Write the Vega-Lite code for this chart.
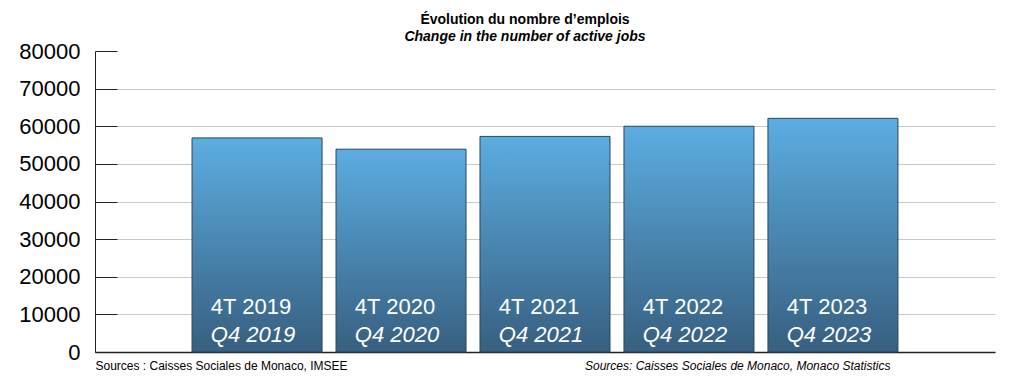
{
  "$schema": "https://vega.github.io/schema/vega-lite/v6.json",
  "width": 900,
  "height": 301,
  "autosize": {"type": "none"},
  "padding": {"left": 95, "top": 51, "right": 29, "bottom": 35},
  "background": "white",
  "config": {
    "view": {"stroke": null},
    "font": "Liberation Sans"
  },
  "title": {
    "text": "Évolution du nombre d’emplois",
    "subtitle": "Change in the number of active jobs",
    "anchor": "middle",
    "frame": "group",
    "dx": -20,
    "offset": -4,
    "fontSize": 14,
    "fontWeight": "bold",
    "color": "black",
    "subtitleFontSize": 14,
    "subtitleFontWeight": "bold",
    "subtitleFontStyle": "italic",
    "subtitleColor": "black",
    "subtitlePadding": 3
  },
  "data": {
    "values": [
      {"fr": "4T 2019", "en": "Q4 2019", "jobs": 56900},
      {"fr": "4T 2020", "en": "Q4 2020", "jobs": 53900},
      {"fr": "4T 2021", "en": "Q4 2021", "jobs": 57300},
      {"fr": "4T 2022", "en": "Q4 2022", "jobs": 60000},
      {"fr": "4T 2023", "en": "Q4 2023", "jobs": 62100}
    ]
  },
  "encoding": {
    "x": {
      "field": "fr",
      "type": "nominal",
      "sort": null,
      "scale": {"paddingInner": 0.097, "paddingOuter": 0.674},
      "axis": {
        "title": "Sources : Caisses Sociales de Monaco, IMSEE",
        "titleFont": "Liberation Sans",
        "titleFontSize": 12,
        "titleFontWeight": "normal",
        "titleColor": "black",
        "titleAnchor": "start",
        "titleAlign": "left",
        "titlePadding": 8,
        "labels": false,
        "ticks": false,
        "domainColor": "#222",
        "domainWidth": 1.5
      }
    },
    "y": {
      "field": "jobs",
      "type": "quantitative",
      "scale": {"domain": [0, 80000]},
      "axis": {
        "title": null,
        "values": [0, 10000, 20000, 30000, 40000, 50000, 60000, 70000, 80000],
        "format": "d",
        "labelOverlap": false,
        "labelFontSize": 22,
        "labelColor": "black",
        "labelFont": "Liberation Sans",
        "labelPadding": 37,
        "tickSize": -22,
        "tickColor": "#222",
        "domainColor": "#222",
        "gridColor": "#c8c8c8",
        "gridOpacity": {"condition": {"test": "datum.value === 80000", "value": 0}, "value": 1}
      }
    }
  },
  "layer": [
    {
      "mark": {
        "type": "bar",
        "stroke": "#2b465c",
        "strokeWidth": 1,
        "color": {
          "gradient": "linear",
          "x1": 0, "y1": 0, "x2": 0, "y2": 1,
          "stops": [
            {"offset": 0, "color": "#5cade1"},
            {"offset": 1, "color": "#375f80"}
          ]
        }
      }
    },
    {
      "mark": {"type": "text", "color": "white", "fontSize": 22, "font": "Liberation Sans", "baseline": "bottom", "dx": -6, "dy": -33},
      "encoding": {"y": {"datum": 0}, "text": {"field": "fr"}}
    },
    {
      "mark": {"type": "text", "color": "white", "fontSize": 22, "fontStyle": "italic", "font": "Liberation Sans", "baseline": "bottom", "dx": -4, "dy": -5},
      "encoding": {"y": {"datum": 0}, "text": {"field": "en"}}
    },
    {
      "transform": [{"filter": "datum.fr === '4T 2021'"}],
      "mark": {"type": "text", "text": "Sources: Caisses Sociales de Monaco, Monaco Statistics", "fontSize": 12, "fontStyle": "italic", "font": "Liberation Sans", "color": "black", "align": "left", "baseline": "middle", "dx": 40, "dy": 14},
      "encoding": {"y": {"datum": 0}}
    }
  ]
}
